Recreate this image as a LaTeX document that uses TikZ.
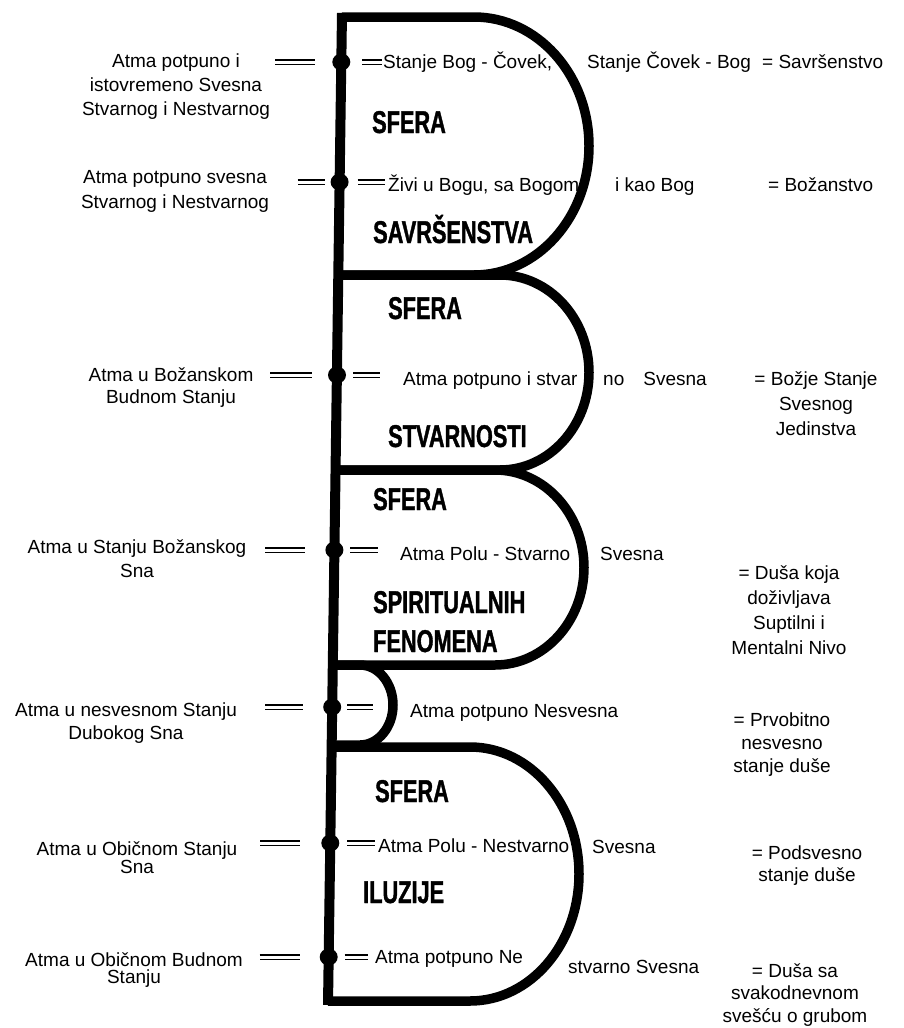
\documentclass[tikz,border=0pt]{standalone}
\usepackage{fontspec}
\setmainfont{Liberation Sans}
\newfontfamily\sferafont[FakeStretch=0.69, FakeBold=1.2]{Liberation Sans}
\usetikzlibrary{shapes.geometric}

\begin{document}
\begin{tikzpicture}[x=1pt, y=-1pt,
	outline/.style = {line width=9.5pt, line join=round},
	dot/.style = {ellipse, fill, inner sep=0pt, minimum width=18pt, minimum height=17pt},
	eqsign/.style = {line width=1.3pt, double, double distance=3pt},
	txt/.style = {inner sep=0pt, anchor=base west, font=\fontsize{19}{24}\selectfont},
	lbl/.style = {inner sep=0pt, anchor=north, align=center, font=\fontsize{19}{#1}\selectfont},
	lbl/.default = 24,
	sfera/.style = {inner sep=0pt, anchor=base west, font=\sferafont\bfseries\fontsize{31.5}{36}\selectfont}]
	\useasboundingbox (0,0) rectangle (903,1028);

	% spheres
	\coordinate (top) at (342,13);
	\coordinate (bot) at (328,1005);
	\draw[line width=10pt] (top) -- (bot);
	\draw[outline] (341.9,17) -- (474,17) arc[start angle=-90, end angle=90, x radius=115, y radius=129] -- (338.3,275);
	\draw[outline] (338.3,275) -- (500,275) arc[start angle=-90, end angle=90, x radius=89, y radius=97.5] -- (335.5,470);
	\draw[outline] (335.5,470) -- (495,470) arc[start angle=-90, end angle=90, x radius=89, y radius=97.5] -- (332.8,665);
	\draw[outline] (332.8,665) -- (360,665) arc[start angle=-90, end angle=90, x radius=33, y radius=40] -- (331.6,745);
	\draw[outline] (331.6,747) -- (470,747) arc[start angle=-90, end angle=90, x radius=109, y radius=127] -- (328,1001);

	\node[sfera] (s1) at (372,133) {SFERA};
	\node[sfera] (s2) at (373,243) {SAVRŠENSTVA};
	\node[sfera] (s3) at (388,319) {SFERA};
	\node[sfera] (s4) at (388,447) {STVARNOSTI};
	\node[sfera] (s5) at (373,510) {SFERA};
	\node[sfera] (s6) at (373,613) {SPIRITUALNIH};
	\node[sfera] (s6b) at (373,652) {FENOMENA};
	\node[sfera] (s7) at (375,802) {SFERA};
	\node[sfera] (s8) at (363,903) {ILUZIJE};

	% states
	\node[dot] (d1) at (341.3,62) {};
	\node[dot] (d2) at (339.6,182) {};
	\node[dot] (d3) at (337,375) {};
	\node[dot] (d4) at (334.4,550) {};
	\node[dot] (d5) at (332.2,707) {};
	\node[dot] (d6) at (330.3,843) {};
	\node[dot] (d7) at (328.7,957) {};
	\foreach \d/\a/\b/\c/\e in {d1/-66/-26/21/41, d2/-42/-15/18/45, d3/-67/-25/16/43,
		d4/-69/-29/16/44, d5/-67/-29/15/41, d6/-70/-30/17/45, d7/-69/-29/16/39}{
		\draw[eqsign] ([xshift=\a pt]\d.center) -- ([xshift=\b pt]\d.center);
		\draw[eqsign] ([xshift=\c pt]\d.center) -- ([xshift=\e pt]\d.center);
	}

	\node[lbl] (l1) at (176,54) {Atma potpuno i\\istovremeno Svesna\\Stvarnog i Nestvarnog};
	\node[lbl=25] (l2) at (175,170) {Atma potpuno svesna\\Stvarnog i Nestvarnog};
	\node[lbl=22] (l3) at (171,367) {Atma u Božanskom\\Budnom Stanju};
	\node[lbl] (l4) at (137,539) {Atma u Stanju Božanskog\\Sna};
	\node[lbl=23] (l5) at (126,703) {Atma u nesvesnom Stanju\\Dubokog Sna};
	\node[lbl=16] (l6) at (137,841) {Atma u Običnom Stanju\\Sna};
	\node[lbl=17] (l7) at (134,952) {Atma u Običnom Budnom\\Stanju};

	\node[txt] (t1) at (383,68) {Stanje Bog - Čovek,};
	\node[txt] (t2) at (388,191) {Živi u Bogu, sa Bogom};
	\node[txt] (t3) at (403,385) {Atma potpuno i stvar};
	\node[txt] (t4) at (400,560) {Atma Polu - Stvarno};
	\node[txt] (t5) at (410,717) {Atma potpuno Nesvesna};
	\node[txt] (t6) at (378,852) {Atma Polu - Nestvarno};
	\node[txt] (t7) at (375,963) {Atma potpuno Ne};

	\node[txt] (o1) at (587,68) {Stanje Čovek - Bog};
	\node[txt] (o2) at (615,191) {i kao Bog};
	\node[txt] (o3) at (603,385) {no\quad Svesna};
	\node[txt] (o4) at (600,560) {Svesna};
	\node[txt] (o6) at (592,853) {Svesna};
	\node[txt] (o7) at (568,973) {stvarno Svesna};

	\node[txt] (r1) at (762,68) {= Savršenstvo};
	\node[txt] (r2) at (768,191) {= Božanstvo};
	\node[lbl=25] (r3) at (816,371) {= Božje Stanje\\Svesnog\\Jedinstva};
	\node[lbl=25] (r4) at (789,565) {= Duša koja\\doživljava\\Suptilni i\\Mentalni Nivo};
	\node[lbl=23] (r5) at (782,713) {= Prvobitno\\nesvesno\\stanje duše};
	\node[lbl=22] (r6) at (807,846) {= Podsvesno\\stanje duše};
	\node[lbl=22.5] (r7) at (795,963) {= Duša sa\\svakodnevnom\\svešću o grubom};
\end{tikzpicture}
\end{document}
